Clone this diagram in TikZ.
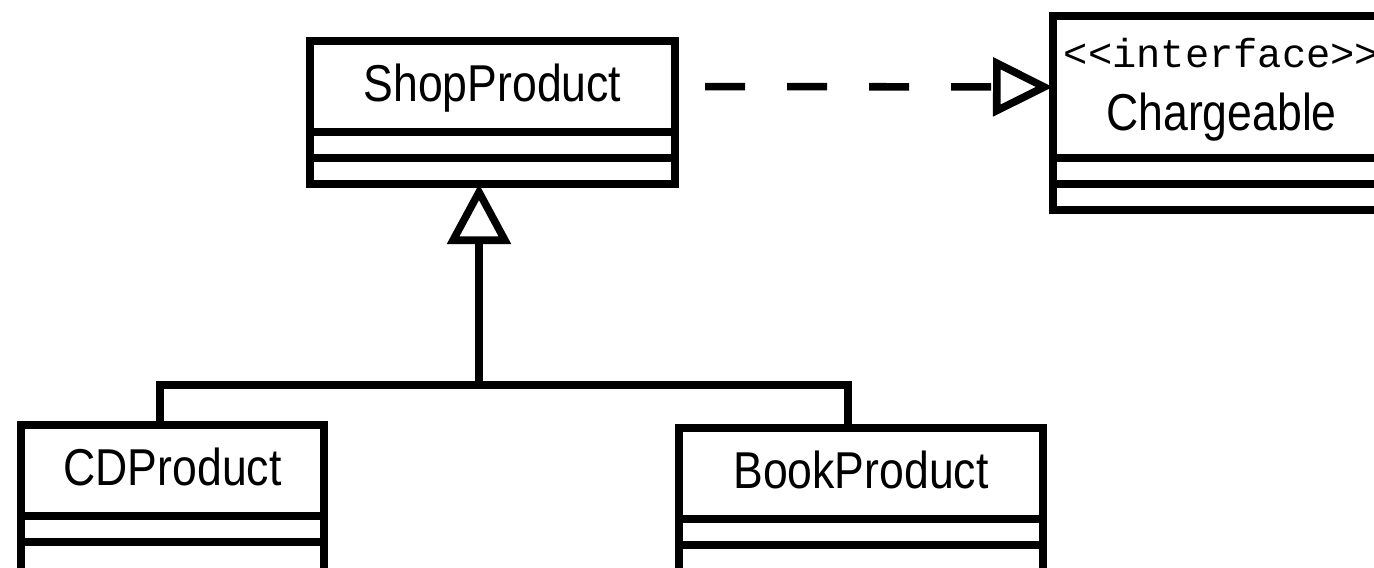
\documentclass[tikz,border=0pt]{standalone}
\usepackage{fontspec}
\newfontfamily\umlfont[FakeStretch=0.86]{Liberation Sans}
\newfontfamily\stereofont{Liberation Mono}
\usetikzlibrary{arrows.meta}
\usetikzlibrary{positioning}

\begin{document}
\begin{tikzpicture}[x=0.2mm,y=-0.2mm,line width=4.3pt,
    umlbox/.style={draw,outer sep=0pt,inner sep=0pt},
    namebox/.style={umlbox,minimum height=1.82cm,text height=0.74cm,text depth=0.14cm,
        font=\umlfont\fontsize{29.5}{34}\selectfont},
    partbox/.style={umlbox,minimum height=0.52cm},
    realize/.style={dash pattern=on 0.8cm off 0.84cm,
        -{Triangle[open,length=1.2cm,width=1.15cm]}},
    inherit/.style={-{Triangle[open,length=1.2cm,width=1.25cm]}}]

    % picture frame
    \useasboundingbox (0,0) rectangle (1374,568);
    \clip (0,0) rectangle (1374,568);

    % base class
    \node[namebox,minimum width=7.3cm] (shop) at (492.5,86.5) {ShopProduct};
    \node[partbox,minimum width=7.3cm,below=0pt of shop] (shopattr) {};
    \node[partbox,minimum width=7.3cm,below=0pt of shopattr] (shopops) {};

    % interface
    \node[umlbox,minimum width=6.74cm,minimum height=2.84cm,align=center,
        font=\umlfont\fontsize{29.5}{34}\selectfont] (charge) at (1221.5,87)
        {\rule{0pt}{0.7cm}{\stereofont\fontsize{23}{26}\selectfont\textless\textless interface\textgreater\textgreater}\\[2pt]Chargeable};
    \node[partbox,minimum width=6.74cm,below=0pt of charge] (chargeattr) {};
    \node[partbox,minimum width=6.74cm,below=0pt of chargeattr] (chargeops) {};

    % subclasses
    \node[namebox,minimum width=6.06cm] (cd) at (172.5,470.5) {CDProduct};
    \node[partbox,minimum width=6.06cm,below=0pt of cd] (cdattr) {};
    \node[partbox,minimum width=6.06cm,minimum height=0.8cm,below=0pt of cdattr] (cdops) {};

    \node[namebox,minimum width=7.28cm] (book) at (861,473.5) {BookProduct};
    \node[partbox,minimum width=7.28cm,below=0pt of book] (bookattr) {};
    \node[partbox,minimum width=7.28cm,minimum height=0.8cm,below=0pt of bookattr] (bookops) {};

    % realization
    \draw[realize,shorten <=0.6cm] (shop.east) -- (charge.west);

    % generalization
    \coordinate (fork) at (479,385);
    \draw[inherit] (fork) -- (fork |- shopops.south);
    \draw ([xshift=-0.25cm]cd.north) |- (fork) -| ([xshift=-0.26cm]book.north);

\end{tikzpicture}
\end{document}
